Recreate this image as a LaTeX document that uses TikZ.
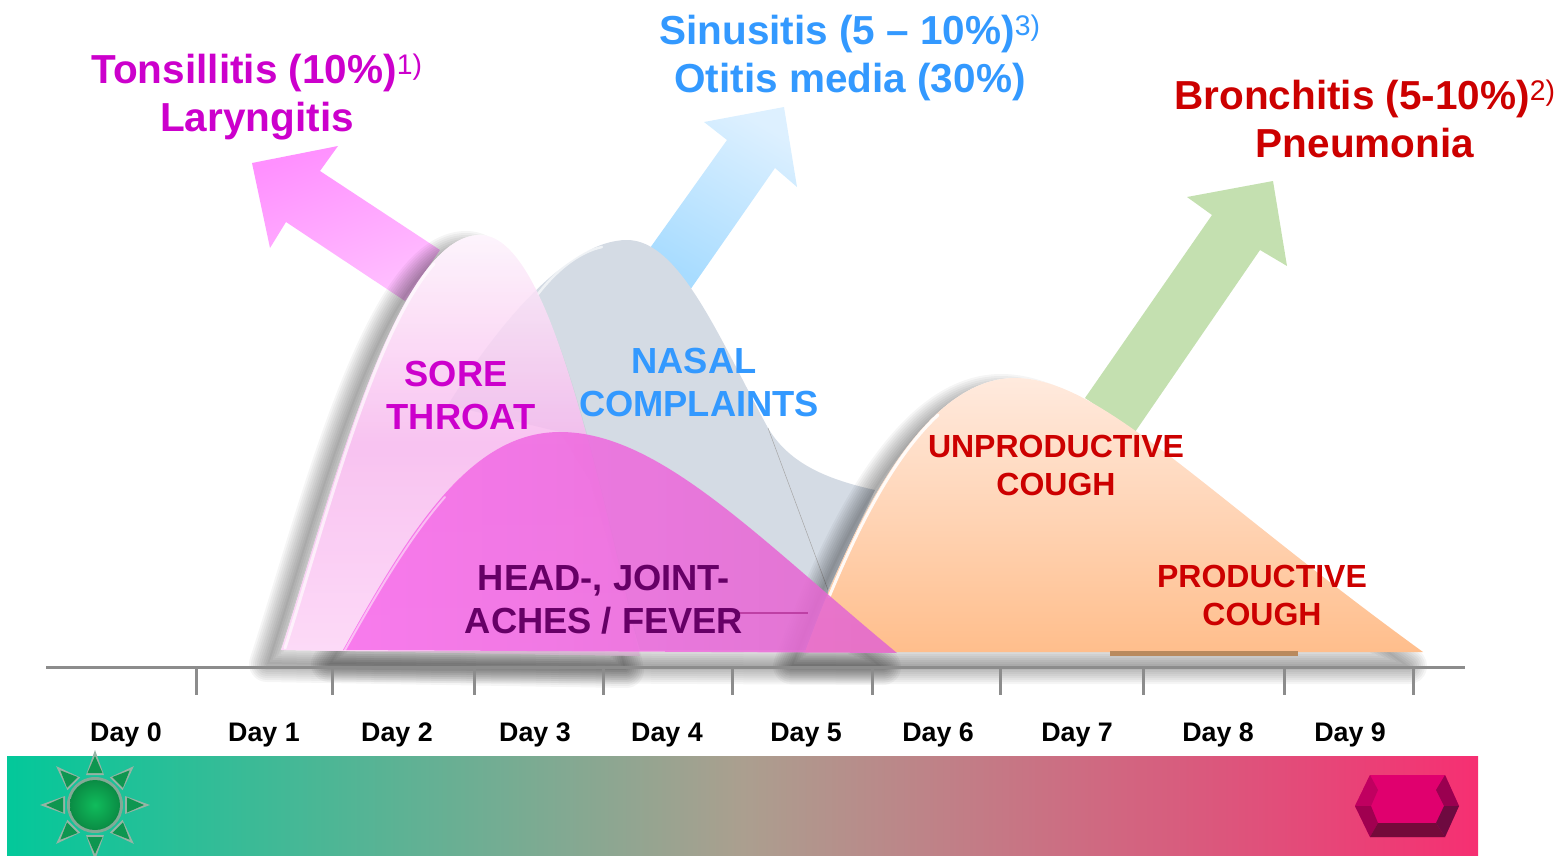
\documentclass[tikz,border=0pt]{standalone}
\usepackage{fontspec}
\setmainfont{Liberation Sans}
\definecolor{tonsil}{HTML}{CC00CC}
\definecolor{sinus}{HTML}{3399FF}
\definecolor{bronch}{HTML}{CC0000}
\definecolor{aches}{HTML}{660066}
\definecolor{axisgray}{HTML}{8C8C8C}
\definecolor{pinkdark}{HTML}{FF90FF}
\definecolor{pinklight}{HTML}{FFC0FF}
\definecolor{bluelight}{HTML}{DDF0FF}
\definecolor{bluedark}{HTML}{A8DCFF}
\definecolor{greenarrow}{HTML}{C4E0B0}
\definecolor{nasalfill}{HTML}{D4DBE4}
\definecolor{soretop}{HTML}{FDF2FB}
\definecolor{soremid}{HTML}{F7B8EE}
\definecolor{sorebot}{HTML}{FCD4F6}
\definecolor{coughtop}{HTML}{FFEADE}
\definecolor{coughbot}{HTML}{FFBE8C}
\definecolor{coughbar}{HTML}{B98A5E}
\definecolor{headleft}{HTML}{F86EEC}
\definecolor{headright}{HTML}{E268CE}
\definecolor{headline}{HTML}{BE40A5}
\definecolor{bandleft}{HTML}{03C89A}
\definecolor{bandmid}{HTML}{AB9F8F}
\definecolor{bandright}{HTML}{F62F72}
\definecolor{rayouter}{HTML}{96B4A5}
\definecolor{rayinner}{HTML}{0E9650}
\definecolor{sunring}{HTML}{82AA96}
\definecolor{suninner}{HTML}{10BC5C}
\definecolor{sunouter}{HTML}{0A8C44}
\definecolor{gemface}{HTML}{E0006E}
\definecolor{gemul}{HTML}{C00060}
\definecolor{gemll}{HTML}{A00050}
\definecolor{gembot}{HTML}{740A3A}
\definecolor{gemur}{HTML}{9A0050}
\definecolor{gemlr}{HTML}{6E0A40}
\def\sorepath{(281,650) .. controls (330,500) and (395,235) .. (480,235) .. controls (545,235) and (590,440) .. (640,656) -- cycle}
\def\nasalpath{(448,405) .. controls (500,320) and (570,240) .. (627,240) .. controls (680,240) and (720,340) .. (768,428) .. controls (790,465) and (830,480) .. (875,490) -- (828,590) -- (830,650) -- (640,650) -- (590,480) -- (560,432) -- cycle}
\def\headpath{(343,650) .. controls (410,530) and (470,432) .. (560,432) .. controls (660,432) and (760,540) .. (897,653) -- cycle}
\def\coughpath{(805,652) .. controls (850,530) and (920,378) .. (1015,378) .. controls (1100,378) and (1200,490) .. (1423,652) -- cycle}
% soft shadow outside of a curve
\newcommand{\softshadow}[1]{
	\begin{scope}[even odd rule]
		\clip (0,0) rectangle (1561,856) #1;
		\foreach \w in {4,8,...,36} {
			\draw[line width=\w pt, opacity=.04, line join=round, shift={(-14,14)}] #1;
		}
		\fill[opacity=.04, shift={(-14,14)}] #1;
	\end{scope}
}

\begin{document}
\begin{tikzpicture}[x=1pt,y=-1pt]
		\tikzstyle{outcome}=[align=center, font=\fontsize{40.5}{48}\selectfont\bfseries]
		\tikzstyle{symptom}=[align=center, font=\fontsize{36.3}{43}\selectfont\bfseries]
		\tikzstyle{cough}=[align=center, font=\fontsize{32}{38}\selectfont\bfseries]
		\tikzstyle{day}=[font=\fontsize{26.8}{30}\selectfont\bfseries]
		\tikzstyle{tick}=[draw=axisgray, line width=3pt]
		\tikzstyle{gloss}=[draw=white, line width=3pt, line cap=round, opacity=.65]
		\useasboundingbox (0,0) rectangle (1561,856);
		
		% arrows
		\shade[left color=pinkdark, right color=pinklight, shading angle=20]
		(252,163) -- (338,146) -- (320,171) -- (440,250) -- (405,301) -- (286,222) -- (270,248) -- cycle;
		\shade[top color=bluelight, bottom color=bluedark, shading angle=-30]
		(784,107) -- (704,122) -- (727,140) -- (650,248) -- (690,290) -- (775,168) -- (797,187) -- cycle;
		\fill[greenarrow]
		(1273,181) -- (1187,197) -- (1212,215) -- (1085,398) -- (1135,432) -- (1260,250) -- (1287,266) -- cycle;
		
		% curves
		\fill[nasalfill] \nasalpath;
		\draw[gray!70, line width=.5pt] (768,428) -- (828,590);
		\draw[gloss, line width=2.5pt] (538,294) .. controls (555,272) and (578,252) .. (602,247);
		
		\softshadow{\sorepath}
		\shade[top color=soretop, bottom color=sorebot, middle color=soremid, opacity=.85] \sorepath;
		\draw[gloss] (285,648) .. controls (323,530) and (373,332) .. (434,264);
		
		\softshadow{\coughpath}
		\shade[top color=coughtop, bottom color=coughbot] \coughpath;
		\draw[gloss, opacity=.9] (829,597) .. controls (858,527) and (894,456) .. (938,415);
		\fill[coughbar] (1110,651) rectangle (1298,656);
		
		\begin{scope}
			\clip (300,651) rectangle (930,700);
			\softshadow{\headpath}
		\end{scope}
		\shade[left color=headleft, right color=headright, opacity=.88] \headpath;
		\draw[gloss, line width=2pt, opacity=.5] (345,650) .. controls (378,591) and (410,537) .. (445,497);
		\draw[headline, line width=2pt] (735,613) -- (808,613);
		
		% axis
		\draw[axisgray, line width=3pt] (46,667) -- (1465,667);
		\foreach \x in {196,332,474,603,732,872,1000,1143,1284,1413} {
			\draw[tick] (\x,667) -- (\x,695);
		}
		
		% labels
		\node[outcome, text=tonsil] (tonsillitis) at (257,97) {Tonsillitis (10\%)\textsuperscript{\mdseries 1)}\\Laryngitis};
		\node[outcome, text=sinus]  (sinusitis)   at (850,58) {Sinusitis (5 -- 10\%)\textsuperscript{\mdseries 3)}\\Otitis media (30\%)};
		\node[outcome, text=bronch] (bronchitis)  at (1365,119) {Bronchitis (5-10\%)\textsuperscript{\mdseries 2)}\\Pneumonia};
		\node[symptom, text=tonsil] (sore)  at (461,396) {SORE\hspace*{10pt}\\THROAT};
		\node[symptom, text=sinus]  (nasal) at (699,383) {NASAL\hspace*{10pt}\\COMPLAINTS};
		\node[symptom, text=aches]  (head)  at (604,600) {HEAD-, JOINT-\\ACHES / FEVER};
		\node[cough, text=bronch]   (unprod) at (1056,465) {UNPRODUCTIVE\\COUGH};
		\node[cough, text=bronch]   (prod)   at (1262,595) {PRODUCTIVE\\COUGH};
		
		\node[day] (d0) at (126,735) {Day 0};
		\node[day] (d1) at (264,735) {Day 1};
		\node[day] (d2) at (397,735) {Day 2};
		\node[day] (d3) at (535,735) {Day 3};
		\node[day] (d4) at (667,735) {Day 4};
		\node[day] (d5) at (806,735) {Day 5};
		\node[day] (d6) at (938,735) {Day 6};
		\node[day] (d7) at (1077,735) {Day 7};
		\node[day] (d8) at (1218,735) {Day 8};
		\node[day] (d9) at (1350,735) {Day 9};
		
		% band
		\shade[left color=bandleft, right color=bandright, middle color=bandmid] (7,756) rectangle (1478,856);
		
		% sun
		\coordinate (sun) at (95,805);
		\foreach \a in {0,45,...,315} {
			\begin{scope}[shift={(sun)}, rotate=\a]
				\fill[rayouter] (55,0) -- (30,-9) -- (30,9) -- cycle;
				\fill[rayinner] (49,0) -- (32,-7.5) -- (32,7.5) -- cycle;
			\end{scope}
		}
		\fill[sunring] (sun) circle (28);
		\shade[inner color=suninner, outer color=sunouter] (sun) circle (25);
		
		% gem
		\fill[gemface] (1370,775) -- (1445,775) -- (1459,806) -- (1445,837) -- (1370,837) -- (1355,806) -- cycle;
		\fill[gemul] (1370,775) -- (1378,790) -- (1371,806) -- (1355,806) -- cycle;
		\fill[gemll] (1355,806) -- (1371,806) -- (1378,823) -- (1370,837) -- cycle;
		\fill[gembot] (1378,823) -- (1436,823) -- (1445,837) -- (1370,837) -- cycle;
		\fill[gemur] (1445,775) -- (1459,806) -- (1444,806) -- (1436,790) -- cycle;
		\fill[gemlr] (1459,806) -- (1445,837) -- (1436,823) -- (1444,806) -- cycle;
		
		\end{tikzpicture}
\end{document}
